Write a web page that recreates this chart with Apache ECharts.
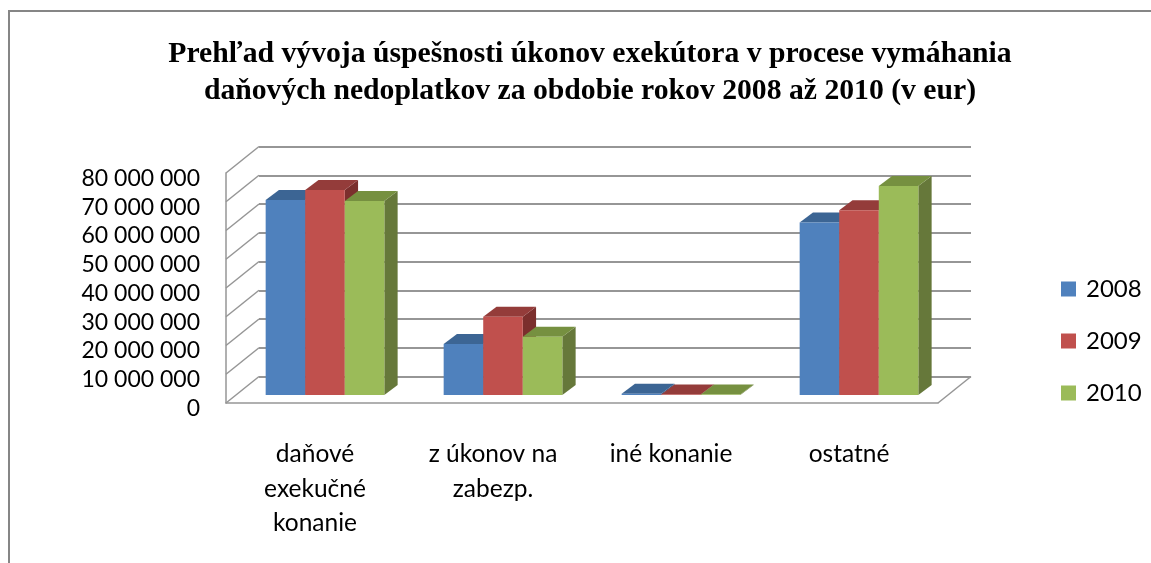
<!DOCTYPE html>
<html><head><meta charset="utf-8">
<style>html,body{margin:0;padding:0;background:#fff}#c{width:1151px;height:563px}</style>
<script src="https://cdn.jsdelivr.net/npm/echarts@6/dist/echarts.min.js"></script>
</head><body><div id="c"></div>
<script>
const titleText = 'Prehľad vývoja úspešnosti úkonov exekútora v procese vymáhania\ndaňových nedoplatkov za obdobie rokov 2008 až 2010 (v eur)';
const categories = ['daňové\nexekučné\nkonanie', 'z úkonov na\nzabezp.', 'iné konanie', 'ostatné'];
const seriesNames = ['2008', '2009', '2010'];
const values2008 = [67800000, 17700000, 400000, 60000000];
const values2009 = [71300000, 27200000, 200000, 64300000];
const values2010 = [67500000, 20300000, 200000, 72700000];
const tickValues = [0, 10000000, 20000000, 30000000, 40000000, 50000000, 60000000, 70000000, 80000000];
const faceColors = ['#4F81BD', '#C0504D', '#9BBB59'];
const topColors = ['#3C6594', '#943C3A', '#769040'];
const sideColors = ['#335580', '#7B2F2D', '#66783A'];

const WALL = {dx: 33, dy: -26.5};
const BAR = {ox: 10, oy: -8, dx: 13.3, dy: -10};
const lineCol = '#969696';

function wallItem(params, api) {
  const p = api.coord([0, api.value(0)]);
  const x0 = params.coordSys.x;
  return {type: 'line', shape: {x1: x0, y1: p[1], x2: x0 + WALL.dx, y2: p[1] + WALL.dy},
    style: {stroke: lineCol, lineWidth: 1.5}};
}
function floorItem(params, api) {
  const cs = params.coordSys;
  const xr = cs.x + cs.width, yb = cs.y + cs.height;
  return {type: 'line', shape: {x1: xr, y1: yb, x2: xr + WALL.dx, y2: yb + WALL.dy},
    style: {stroke: lineCol, lineWidth: 1.5}};
}
function barRenderer(idx) {
  return function (params, api) {
    const cat = api.value(0), val = api.value(1);
    const top = api.coord([cat, val]), base = api.coord([cat, 0]);
    const band = api.size([1, 0])[0];
    const w = band / 4.5;
    const x = top[0] - 1.5 * w + idx * w + BAR.ox;
    const yt = top[1] + BAR.oy, yb = base[1] + BAR.oy;
    return {type: 'group', children: [
      {type: 'polygon', shape: {points: [[x + w, yt], [x + w + BAR.dx, yt + BAR.dy], [x + w + BAR.dx, yb + BAR.dy], [x + w, yb]]},
        style: {fill: sideColors[idx]}},
      {type: 'polygon', shape: {points: [[x, yt], [x + BAR.dx, yt + BAR.dy], [x + w + BAR.dx, yt + BAR.dy], [x + w, yt]]},
        style: {fill: topColors[idx]}},
      {type: 'rect', shape: {x: x, y: yt, width: w, height: yb - yt}, style: {fill: faceColors[idx]}}
    ]};
  };
}
const allValues = [values2008, values2009, values2010];
const fontSans = 'Lato, "Open Sans", sans-serif';

const yBase = {type: 'value', min: 0, max: 80000000, interval: 10000000};
const chart = echarts.init(document.getElementById('c'), null, {renderer: 'canvas'});
chart.setOption({
  animation: false,
  backgroundColor: '#fff',
  title: {text: titleText, left: 585, top: 31, textAlign: 'center',
    textStyle: {fontFamily: '"Liberation Serif", serif', fontWeight: 'bold', fontSize: 29.7, lineHeight: 37, color: '#000'}},
  graphic: [{type: 'rect', shape: {x: 9, y: 11, width: 1300, height: 700},
    style: {fill: 'none', stroke: '#868686', lineWidth: 2}, silent: true, z: -10}],
  legend: {orient: 'vertical', left: 1056, top: 272, itemWidth: 15, itemHeight: 15, itemGap: 28,
    icon: 'rect', data: seriesNames,
    textStyle: {fontFamily: fontSans, fontSize: 24, color: '#000', padding: [0, 0, 0, 5]}},
  grid: [
    {left: 226, width: 712, top: 173, height: 230},
    {left: 259, width: 712, top: 146.5, height: 230}
  ],
  xAxis: [
    {type: 'category', gridIndex: 0, data: categories,
      axisLine: {show: true, lineStyle: {color: lineCol, width: 1.5}}, axisTick: {show: false},
      axisLabel: {interval: 0, margin: 34, fontFamily: fontSans, fontSize: 24.5, lineHeight: 34.5, color: '#000'}},
    {type: 'category', gridIndex: 1, data: categories, show: false}
  ],
  yAxis: [
    Object.assign({}, yBase, {gridIndex: 0, splitLine: {show: false},
      axisLine: {show: true, lineStyle: {color: lineCol, width: 1.5}}, axisTick: {show: false},
      axisLabel: {margin: 26, fontFamily: fontSans, fontSize: 23, color: '#000', verticalAlign: 'top', lineHeight: 11,
        formatter: v => String(v).replace(/\B(?=(\d{3})+$)/g, ' ')}}),
    Object.assign({}, yBase, {gridIndex: 1, axisLine: {show: false}, axisTick: {show: false}, axisLabel: {show: false},
      splitLine: {show: true, lineStyle: {color: lineCol, width: 2}}})
  ],
  series: [
    {type: 'custom', name: 'wall', xAxisIndex: 0, yAxisIndex: 0, silent: true, z: 1, renderItem: wallItem,
      encode: {y: 0}, data: tickValues.map(v => [v]), clip: false},
    {type: 'custom', name: 'floor', xAxisIndex: 0, yAxisIndex: 0, silent: true, z: 1, renderItem: floorItem,
      data: [[0]], clip: false}
  ].concat(seriesNames.map((n, i) => ({
    type: 'custom', name: n, xAxisIndex: 0, yAxisIndex: 0, z: 5, clip: false,
    itemStyle: {color: faceColors[i]},
    renderItem: barRenderer(i),
    encode: {x: 0, y: 1},
    data: allValues[i].map((v, c) => [c, v])
  })))
});
</script></body></html>
